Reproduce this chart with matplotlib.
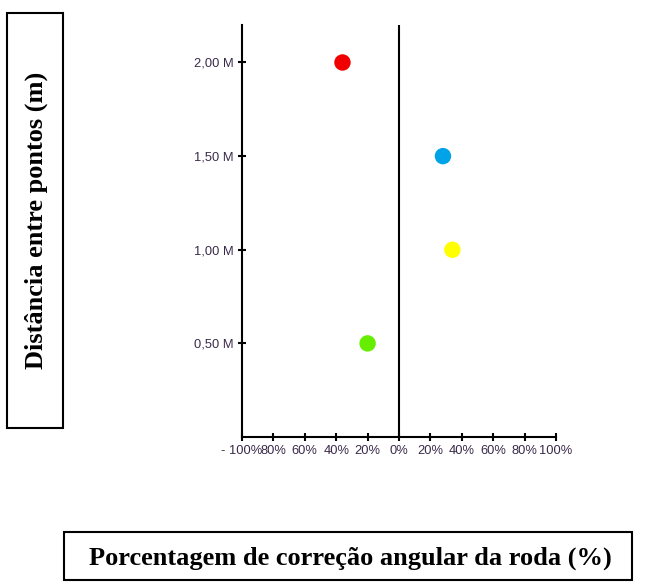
import matplotlib.pyplot as plt
from matplotlib.patches import Rectangle

# data
distances = [2.0, 1.5, 1.0, 0.5]
corrections = [-36, 28, 34, -20]
point_colors = ['#f00000', '#00a2e8', '#ffff00', '#66ee00']

x_ticks = [-100, -80, -60, -40, -20, 0, 20, 40, 60, 80, 100]
x_tick_labels = ['- 100%', '80%', '60%', '40%', '20%', '0%', '20%', '40%', '60%', '80%', '100%']
y_ticks = [0.5, 1.0, 1.5, 2.0]
y_tick_labels = ['0,50 M', '1,00 M', '1,50 M', '2,00 M']

fig = plt.figure(figsize=(6.45, 5.82), dpi=100)
ax = fig.add_axes([0.3752, 0.2491, 0.4868, 0.7079])

ax.scatter(corrections, distances, s=140, c=point_colors, edgecolors='none', zorder=3)
ax.axvline(0, color='black', lw=1.5, zorder=2)

ax.set_xlim(-100, 100)
ax.set_ylim(0, 2.2)
ax.set_xticks(x_ticks)
ax.set_xticklabels(x_tick_labels)
ax.set_yticks(y_ticks)
ax.set_yticklabels(y_tick_labels)
ax.tick_params(direction='inout', length=6, width=1.5, labelsize=9.3,
               labelcolor='#3a2a4a', pad=3)
for lbl in ax.get_xticklabels() + ax.get_yticklabels():
    lbl.set_family('Liberation Sans')

for side in ['top', 'right']:
    ax.spines[side].set_visible(False)
for side in ['left', 'bottom']:
    ax.spines[side].set_linewidth(1.5)

# boxed axis titles
fig.patches.append(Rectangle((7 / 645, 1 - 428 / 582), 56 / 645, 415 / 582,
                             transform=fig.transFigure, fill=False, lw=1.5, ec='black'))
fig.text(36 / 645, 1 - 220 / 582, 'Distância entre pontos (m)', rotation=90,
         ha='center', va='center', family='Liberation Serif', weight='bold', fontsize=19)

fig.patches.append(Rectangle((64 / 645, 1 - 580 / 582), 568 / 645, 48 / 582,
                             transform=fig.transFigure, fill=False, lw=1.5, ec='black'))
fig.text(350 / 645, 1 - 558 / 582, 'Porcentagem de correção angular da roda (%)',
         ha='center', va='center', family='Liberation Serif', weight='bold', fontsize=19)

fig.savefig('out.png', dpi=100)
